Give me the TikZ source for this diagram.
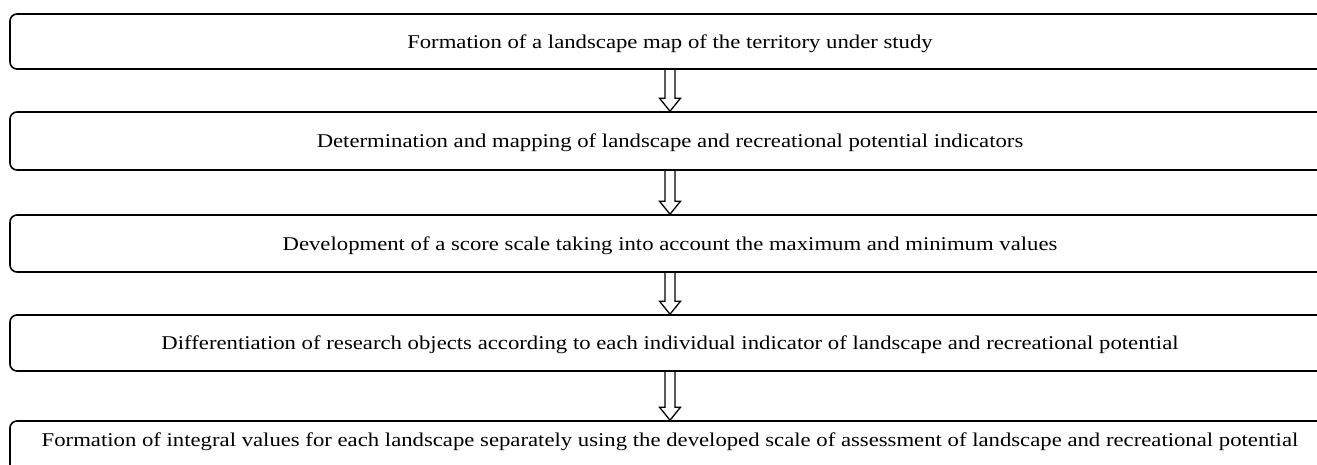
\documentclass[tikz,border=0pt]{standalone}
\usepackage{fontspec}
\setmainfont{Liberation Serif}[FakeStretch=1.165]
\usepackage{tikz}
\usetikzlibrary{calc}
\tikzset{%
  stage box/.style={
    draw,
    rounded corners=7pt,
    line width=1.6pt,
    minimum width=1320pt,
    text height=14pt,
    text depth=1pt,
    inner sep=0pt,
    font=\fontsize{19.5}{23}\selectfont
  },
  hollow arrow/.style={
    line width=1.3pt,
    line join=miter
  },
}
% open block arrow from the bottom of #1 down to the top of #2
\newcommand{\stagearrow}[2]{%
  \draw[hollow arrow] ($(#1.south)+(-5,0)$) -- ($(#2.north)+(-5,-13)$)
    -- ($(#2.north)+(-10.5,-13)$) -- (#2.north) -- ($(#2.north)+(10.5,-13)$)
    -- ($(#2.north)+(5,-13)$) -- ($(#1.south)+(5,0)$);
}

\begin{document}
\begin{tikzpicture}[x=1pt, y=-1pt]
\useasboundingbox (0,0) rectangle (1317,464);
\clip (0,0) rectangle (1317,464);

    \node[stage box, minimum height=55pt] (stage_1) at (670,41.5)
        {Formation of a landscape map of the territory under study};
    \node[stage box, minimum height=58pt] (stage_2) at (670,141)
        {Determination and mapping of landscape and recreational potential indicators};
    \node[stage box, minimum height=57pt] (stage_3) at (670,243.5)
        {Development of a score scale taking into account the maximum and minimum values};
    \node[stage box, minimum height=56pt] (stage_4) at (670,343)
        {Differentiation of research objects according to each individual indicator of landscape and recreational potential};
    \node[stage box, minimum height=57pt, text depth=21pt] (stage_5) at (670,449.5)
        {Formation of integral values for each landscape separately using the developed scale of assessment of landscape and recreational potential};

   \stagearrow{stage_1}{stage_2}
   \stagearrow{stage_2}{stage_3}
   \stagearrow{stage_3}{stage_4}
   \stagearrow{stage_4}{stage_5}
\end{tikzpicture}
\end{document}
